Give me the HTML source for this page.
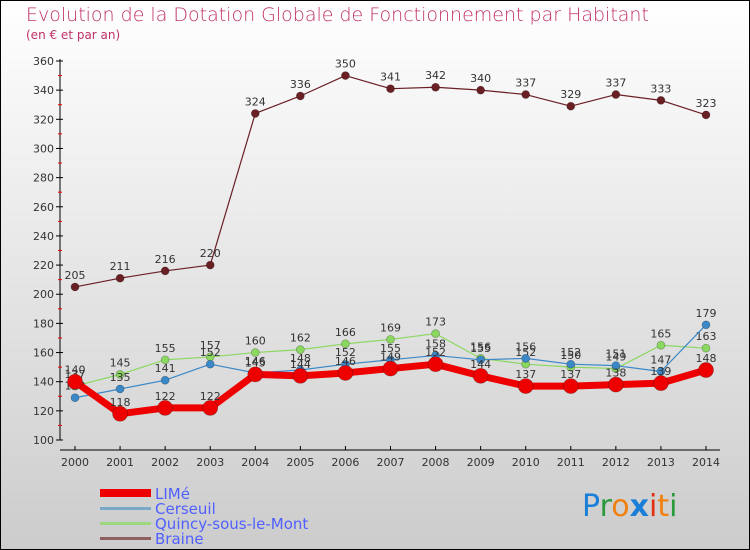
<!DOCTYPE html>
<html><head><meta charset="utf-8"><style>
html,body{margin:0;padding:0;width:750px;height:550px;overflow:hidden}
svg{display:block;font-family:"DejaVu Sans","Liberation Sans",sans-serif}
</style></head><body>
<svg id="chart" width="750" height="550" xmlns="http://www.w3.org/2000/svg">
<defs><linearGradient id="bg" x1="0" y1="0" x2="0" y2="1"><stop offset="0" stop-color="#ffffff"/><stop offset="1" stop-color="#cccccc"/></linearGradient></defs>
<rect x="0.5" y="0.5" width="749" height="549" fill="url(#bg)" stroke="#000"/>
<text x="26" y="21" font-size="19" fill="#c0306a" font-family="DejaVu Sans, sans-serif" font-weight="200">Evolution de la Dotation Globale de Fonctionnement par Habitant</text>
<text x="26" y="39" font-size="12" fill="#c0306a">(en € et par an)</text>
<g id="axes"></g>
<g id="series"></g>
<g id="legend">
<rect x="100" y="489" width="51" height="8" fill="#e00"/>
<text x="155" y="499" font-size="15" fill="#5060ff">LIMé</text>
<rect x="100" y="507" width="51" height="3" fill="#7aa8c8"/>
<text x="155" y="514" font-size="15" fill="#5060ff">Cerseuil</text>
<rect x="100" y="522" width="51" height="3" fill="#9dd880"/>
<text x="155" y="529" font-size="15" fill="#5060ff">Quincy-sous-le-Mont</text>
<rect x="100" y="537" width="51" height="3" fill="#906060"/>
<text x="155" y="544" font-size="15" fill="#5060ff">Braine</text>
</g>
<g font-size="30" font-family="DejaVu Sans, sans-serif">
<text x="582" y="516"><tspan fill="#1a7fd8">P</tspan><tspan fill="#2a9a3a">r</tspan><tspan fill="#f08010">o</tspan><tspan fill="#1a7fd8" font-weight="bold">x</tspan><tspan fill="#e03010">i</tspan><tspan fill="#f08010">t</tspan><tspan fill="#2a9a3a">i</tspan></text>
</g>
</svg>
<script>
const years=[2000,2001,2002,2003,2004,2005,2006,2007,2008,2009,2010,2011,2012,2013,2014];
const yTicks=[100,120,140,160,180,200,220,240,260,280,300,320,340,360];
const lime=[140,118,122,122,145,144,146,149,152,144,137,137,138,139,148];
const cerseuil=[129,135,141,152,146,148,152,155,158,155,156,152,151,147,179];
const quincy=[137,145,155,157,160,162,166,169,173,156,152,150,149,165,163];
const braine=[205,211,216,220,324,336,350,341,342,340,337,329,337,333,323];
const NS='http://www.w3.org/2000/svg';
const xs=i=>75+i*(706-75)/14;
const ys=v=>440-(v-100)*(440-61)/260;
function el(t,a,p){const e=document.createElementNS(NS,t);for(const k in a)e.setAttribute(k,a[k]);p.appendChild(e);return e;}
const ax=document.getElementById('axes');
const ya=el('line',{x1:60,y1:59,x2:60,y2:440,stroke:'#000'},ax);


const xa=el('line',{x1:60,y1:450,x2:720,y2:450,stroke:'#000'},ax);


yTicks.forEach((v,i)=>{const y=ys(v);
el('line',{x1:56,y1:y,x2:63,y2:y,stroke:'#000'},ax);
if(i<yTicks.length-1){el('line',{x1:58,y1:ys(v+10),x2:62,y2:ys(v+10),stroke:'#e00'},ax);}
const t=el('text',{x:54,y:y+4,'font-size':11,fill:'#333','text-anchor':'end'},ax);t.textContent=v;

});
years.forEach((yr,i)=>{const x=xs(i);
el('line',{x1:x,y1:446,x2:x,y2:450,stroke:'#000'},ax);
const t=el('text',{x:x,y:466,'font-size':11,fill:'#333','text-anchor':'middle'},ax);t.textContent=yr;

});
const sg=document.getElementById('series');
function draw(name,data,col,w,r,labelCol){
const g=el('g',{},sg);


const p=el('polyline',{points:data.map((v,i)=>xs(i)+','+ys(v)).join(' '),fill:'none',stroke:col,'stroke-width':w,'stroke-linejoin':'round'},g);


data.forEach((v,i)=>{const c=el('circle',{cx:xs(i),cy:ys(v),r:r,fill:col,stroke:'rgba(0,0,0,0.3)','stroke-width':0.7},g);


const t=el('text',{x:xs(i),y:ys(v)-8,'font-size':11,fill:'#333','text-anchor':'middle'},g);t.textContent=v;

});
}
draw('braine',braine,'#6a1f24',1.2,4);
draw('quincy',quincy,'#8ad860',1.2,4);
draw('cerseuil',cerseuil,'#3a88c8',1.2,4);
draw('lime',lime,'#ee0000',7,7.5);
</script>
</body></html>
